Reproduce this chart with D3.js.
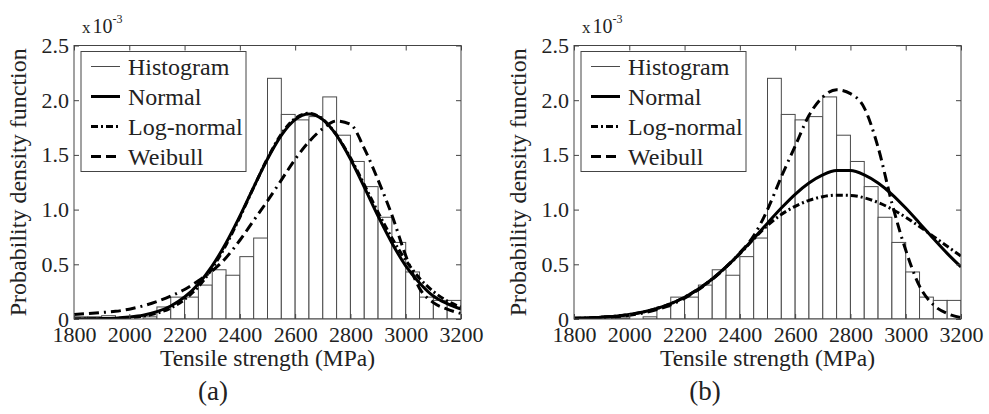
<!DOCTYPE html>
<html>
<head>
<meta charset="utf-8">
<script src="https://cdn.jsdelivr.net/npm/d3@7"></script>
<style>
  body { margin: 0; background: #fff; }
  svg, svg text { font-family: 'Liberation Serif', 'DejaVu Serif', 'Times New Roman', Times, serif; }
  svg { display: block; }
</style>
</head>
<body>
<div id="chart"></div>
<script>
const strength = [1800, 1850, 1900, 1950, 2000, 2050, 2100, 2150, 2200, 2250,
    2300, 2350, 2400, 2450, 2500, 2550, 2600, 2650, 2700, 2750,
    2800, 2850, 2900, 2950, 3000, 3050, 3100, 3150, 3200];

// histogram, 50 MPa bins, density in units of 1e-3
const binStart = [1800, 1850, 1900, 1950, 2000, 2050, 2100, 2150, 2200, 2250,
    2300, 2350, 2400, 2450, 2500, 2550, 2600, 2650, 2700, 2750,
    2800, 2850, 2900, 2950, 3000, 3050, 3100, 3150];
const histDensity = [0.02, 0.02, 0.03, 0.01, 0.00, 0.02, 0.11, 0.20, 0.20, 0.31,
    0.45, 0.40, 0.57, 0.74, 2.20, 1.87, 1.82, 1.85, 2.03, 1.68,
    1.44, 1.21, 0.93, 0.70, 0.43, 0.20, 0.17, 0.17];

// panel (a)
const normalA = [0.001, 0.002, 0.004, 0.008, 0.018, 0.035, 0.067, 0.119, 0.201, 0.321,
    0.486, 0.695, 0.940, 1.205, 1.462, 1.678, 1.822, 1.873, 1.822, 1.678,
    1.462, 1.205, 0.940, 0.695, 0.486, 0.330, 0.210, 0.140, 0.090];
const lognormalA = [0.000, 0.001, 0.002, 0.005, 0.012, 0.026, 0.053, 0.100, 0.178, 0.296,
    0.463, 0.677, 0.930, 1.203, 1.468, 1.690, 1.834, 1.880, 1.825, 1.682,
    1.473, 1.228, 0.975, 0.740, 0.537, 0.373, 0.252, 0.165, 0.108];
const weibullA = [0.04, 0.05, 0.06, 0.07, 0.09, 0.12, 0.16, 0.21, 0.27, 0.35,
    0.44, 0.56, 0.72, 0.90, 1.08, 1.27, 1.46, 1.62, 1.74, 1.81,
    1.78, 1.56, 1.27, 0.95, 0.58, 0.28, 0.15, 0.09, 0.05];

// panel (b)
const normalB = [0.005, 0.009, 0.016, 0.026, 0.041, 0.064, 0.096, 0.140, 0.199, 0.274,
    0.366, 0.476, 0.600, 0.736, 0.876, 1.014, 1.140, 1.243, 1.318, 1.357,
    1.357, 1.318, 1.243, 1.140, 1.014, 0.876, 0.736, 0.600, 0.476];
const lognormalB = [0.005, 0.009, 0.016, 0.026, 0.041, 0.064, 0.096, 0.140, 0.199, 0.274,
    0.366, 0.474, 0.596, 0.730, 0.855, 0.955, 1.030, 1.085, 1.118, 1.132,
    1.130, 1.108, 1.065, 1.005, 0.930, 0.845, 0.755, 0.665, 0.575];
const weibullB = [0.003, 0.006, 0.012, 0.020, 0.034, 0.055, 0.086, 0.130, 0.190, 0.268,
    0.362, 0.475, 0.605, 0.760, 1.000, 1.300, 1.580, 1.860, 2.030, 2.095,
    2.060, 1.930, 1.570, 1.060, 0.630, 0.300, 0.130, 0.050, 0.012];

const xTicks = [1800, 2000, 2200, 2400, 2600, 2800, 3000, 3200];
const yTicks = [0, 0.5, 1.0, 1.5, 2.0, 2.5];
const legendNames = ['Histogram', 'Normal', 'Log-normal', 'Weibull'];

const fontFamily = "'Liberation Serif', 'DejaVu Serif', 'Times New Roman', Times, serif";
const textColor = '#222';
const axisColor = '#444';

// line styles
const styles = {
    Histogram: {w: 1, dash: null, color: '#4a4a4a'},
    Normal: {w: 3, dash: null, color: '#000'},
    'Log-normal': {w: 3, dash: '7,3,2,3', color: '#000'},
    Weibull: {w: 3, dash: '10,5,10,5,2,5', color: '#000'}
};

const svg = d3.select('#chart').append('svg')
    .attr('width', 989)
    .attr('height', 414)
    .attr('font-family', fontFamily);

function drawPanel(cfg) {
    const w = 387, h = 273.5;
    const g = svg.append('g').attr('transform', `translate(${cfg.left},${cfg.top})`);

    const x = d3.scaleLinear().domain([1800, 3200]).range([0, w]);
    const y = d3.scaleLinear().domain([0, 2.5]).range([h, 0]);

    g.append('clipPath').attr('id', cfg.id + '-clip')
        .append('rect').attr('width', w).attr('height', h);

    const plot = g.append('g').attr('clip-path', `url(#${cfg.id}-clip)`);

    // histogram
    plot.selectAll('rect.bar')
        .data(binStart.map((b, i) => ({x0: b, x1: b + 50, v: histDensity[i]})))
        .join('rect')
            .attr('class', 'bar')
            .attr('x', d => x(d.x0))
            .attr('y', d => y(d.v))
            .attr('width', d => x(d.x1) - x(d.x0))
            .attr('height', d => y(0) - y(d.v))
            .attr('fill', '#fff')
            .attr('stroke', styles.Histogram.color)
            .attr('stroke-width', 1);

    const line = d3.line()
        .x((d, i) => x(strength[i]))
        .y(d => y(d))
        .curve(d3.curveMonotoneX);

    cfg.curves.forEach(c => {
        const s = styles[c.name];
        plot.append('path')
            .attr('d', line(c.values))
            .attr('fill', 'none')
            .attr('stroke', s.color)
            .attr('stroke-width', s.w)
            .attr('stroke-dasharray', s.dash);
    });

    // frame + inward ticks on all four sides
    const styleAxis = sel => {
        sel.attr('font-family', fontFamily).attr('font-size', 22);
        sel.select('.domain').remove();
        sel.selectAll('line').attr('stroke', axisColor);
        sel.selectAll('text').attr('fill', textColor);
    };
    g.append('g').attr('transform', `translate(0,${h})`)
        .call(d3.axisBottom(x).tickValues(xTicks).tickSize(-5).tickPadding(7)
            .tickFormat(d3.format('d')))
        .call(styleAxis);
    g.append('g')
        .call(d3.axisTop(x).tickValues(xTicks).tickSize(-5).tickFormat(''))
        .call(styleAxis);
    g.append('g')
        .call(d3.axisLeft(y).tickValues(yTicks).tickSize(-5).tickPadding(5)
            .tickFormat(d => d === 0 ? '0' : d3.format('.1f')(d)))
        .call(styleAxis);
    g.append('g').attr('transform', `translate(${w},0)`)
        .call(d3.axisRight(y).tickValues(yTicks).tickSize(-5).tickFormat(''))
        .call(styleAxis);
    g.append('rect')
        .attr('width', w).attr('height', h)
        .attr('fill', 'none').attr('stroke', axisColor).attr('stroke-width', 1);

    // x 10^-3 multiplier
    const mult = g.append('text')
        .attr('x', 8).attr('y', -12.5)
        .attr('fill', textColor);
    mult.append('tspan').attr('font-size', 17).text('x');
    mult.append('tspan').attr('font-size', 20).attr('dx', 2).text('10');
    mult.append('tspan').attr('font-size', 12).attr('dy', -10).text('-3');

    // legend
    const lg = g.append('g').attr('transform', 'translate(7,6)');
    lg.append('rect')
        .attr('width', 165).attr('height', 120)
        .attr('fill', '#fff').attr('stroke', axisColor).attr('stroke-width', 1);
    legendNames.forEach((name, i) => {
        const s = styles[name];
        const ly = 15 + i * 30;
        lg.append('line')
            .attr('x1', 10).attr('x2', 39)
            .attr('y1', ly).attr('y2', ly)
            .attr('stroke', s.color)
            .attr('stroke-width', s.w)
            .attr('stroke-dasharray', s.dash);
        lg.append('text')
            .attr('x', 47).attr('y', ly)
            .attr('dy', '0.35em')
            .attr('font-size', 24)
            .attr('fill', textColor)
            .text(name);
    });

    // axis titles
    g.append('text')
        .attr('x', w / 2).attr('y', h + 47)
        .attr('text-anchor', 'middle')
        .attr('font-size', 23.5)
        .attr('fill', textColor)
        .text('Tensile strength (MPa)');
    g.append('text')
        .attr('transform', `translate(${-48},${h / 2}) rotate(-90)`)
        .attr('text-anchor', 'middle')
        .attr('font-size', 24)
        .attr('fill', textColor)
        .text('Probability density function');

    svg.append('text')
        .attr('x', cfg.tagX).attr('y', 400)
        .attr('text-anchor', 'middle')
        .attr('font-size', 27)
        .attr('fill', textColor)
        .text(cfg.tag);
}

drawPanel({
    id: 'pa', left: 74, top: 45.5, tag: '(a)', tagX: 213,
    curves: [
        {name: 'Weibull', values: weibullA},
        {name: 'Log-normal', values: lognormalA},
        {name: 'Normal', values: normalA}
    ]
});
drawPanel({
    id: 'pb', left: 574, top: 45.5, tag: '(b)', tagX: 705,
    curves: [
        {name: 'Weibull', values: weibullB},
        {name: 'Log-normal', values: lognormalB},
        {name: 'Normal', values: normalB}
    ]
});
</script>
</body>
</html>
